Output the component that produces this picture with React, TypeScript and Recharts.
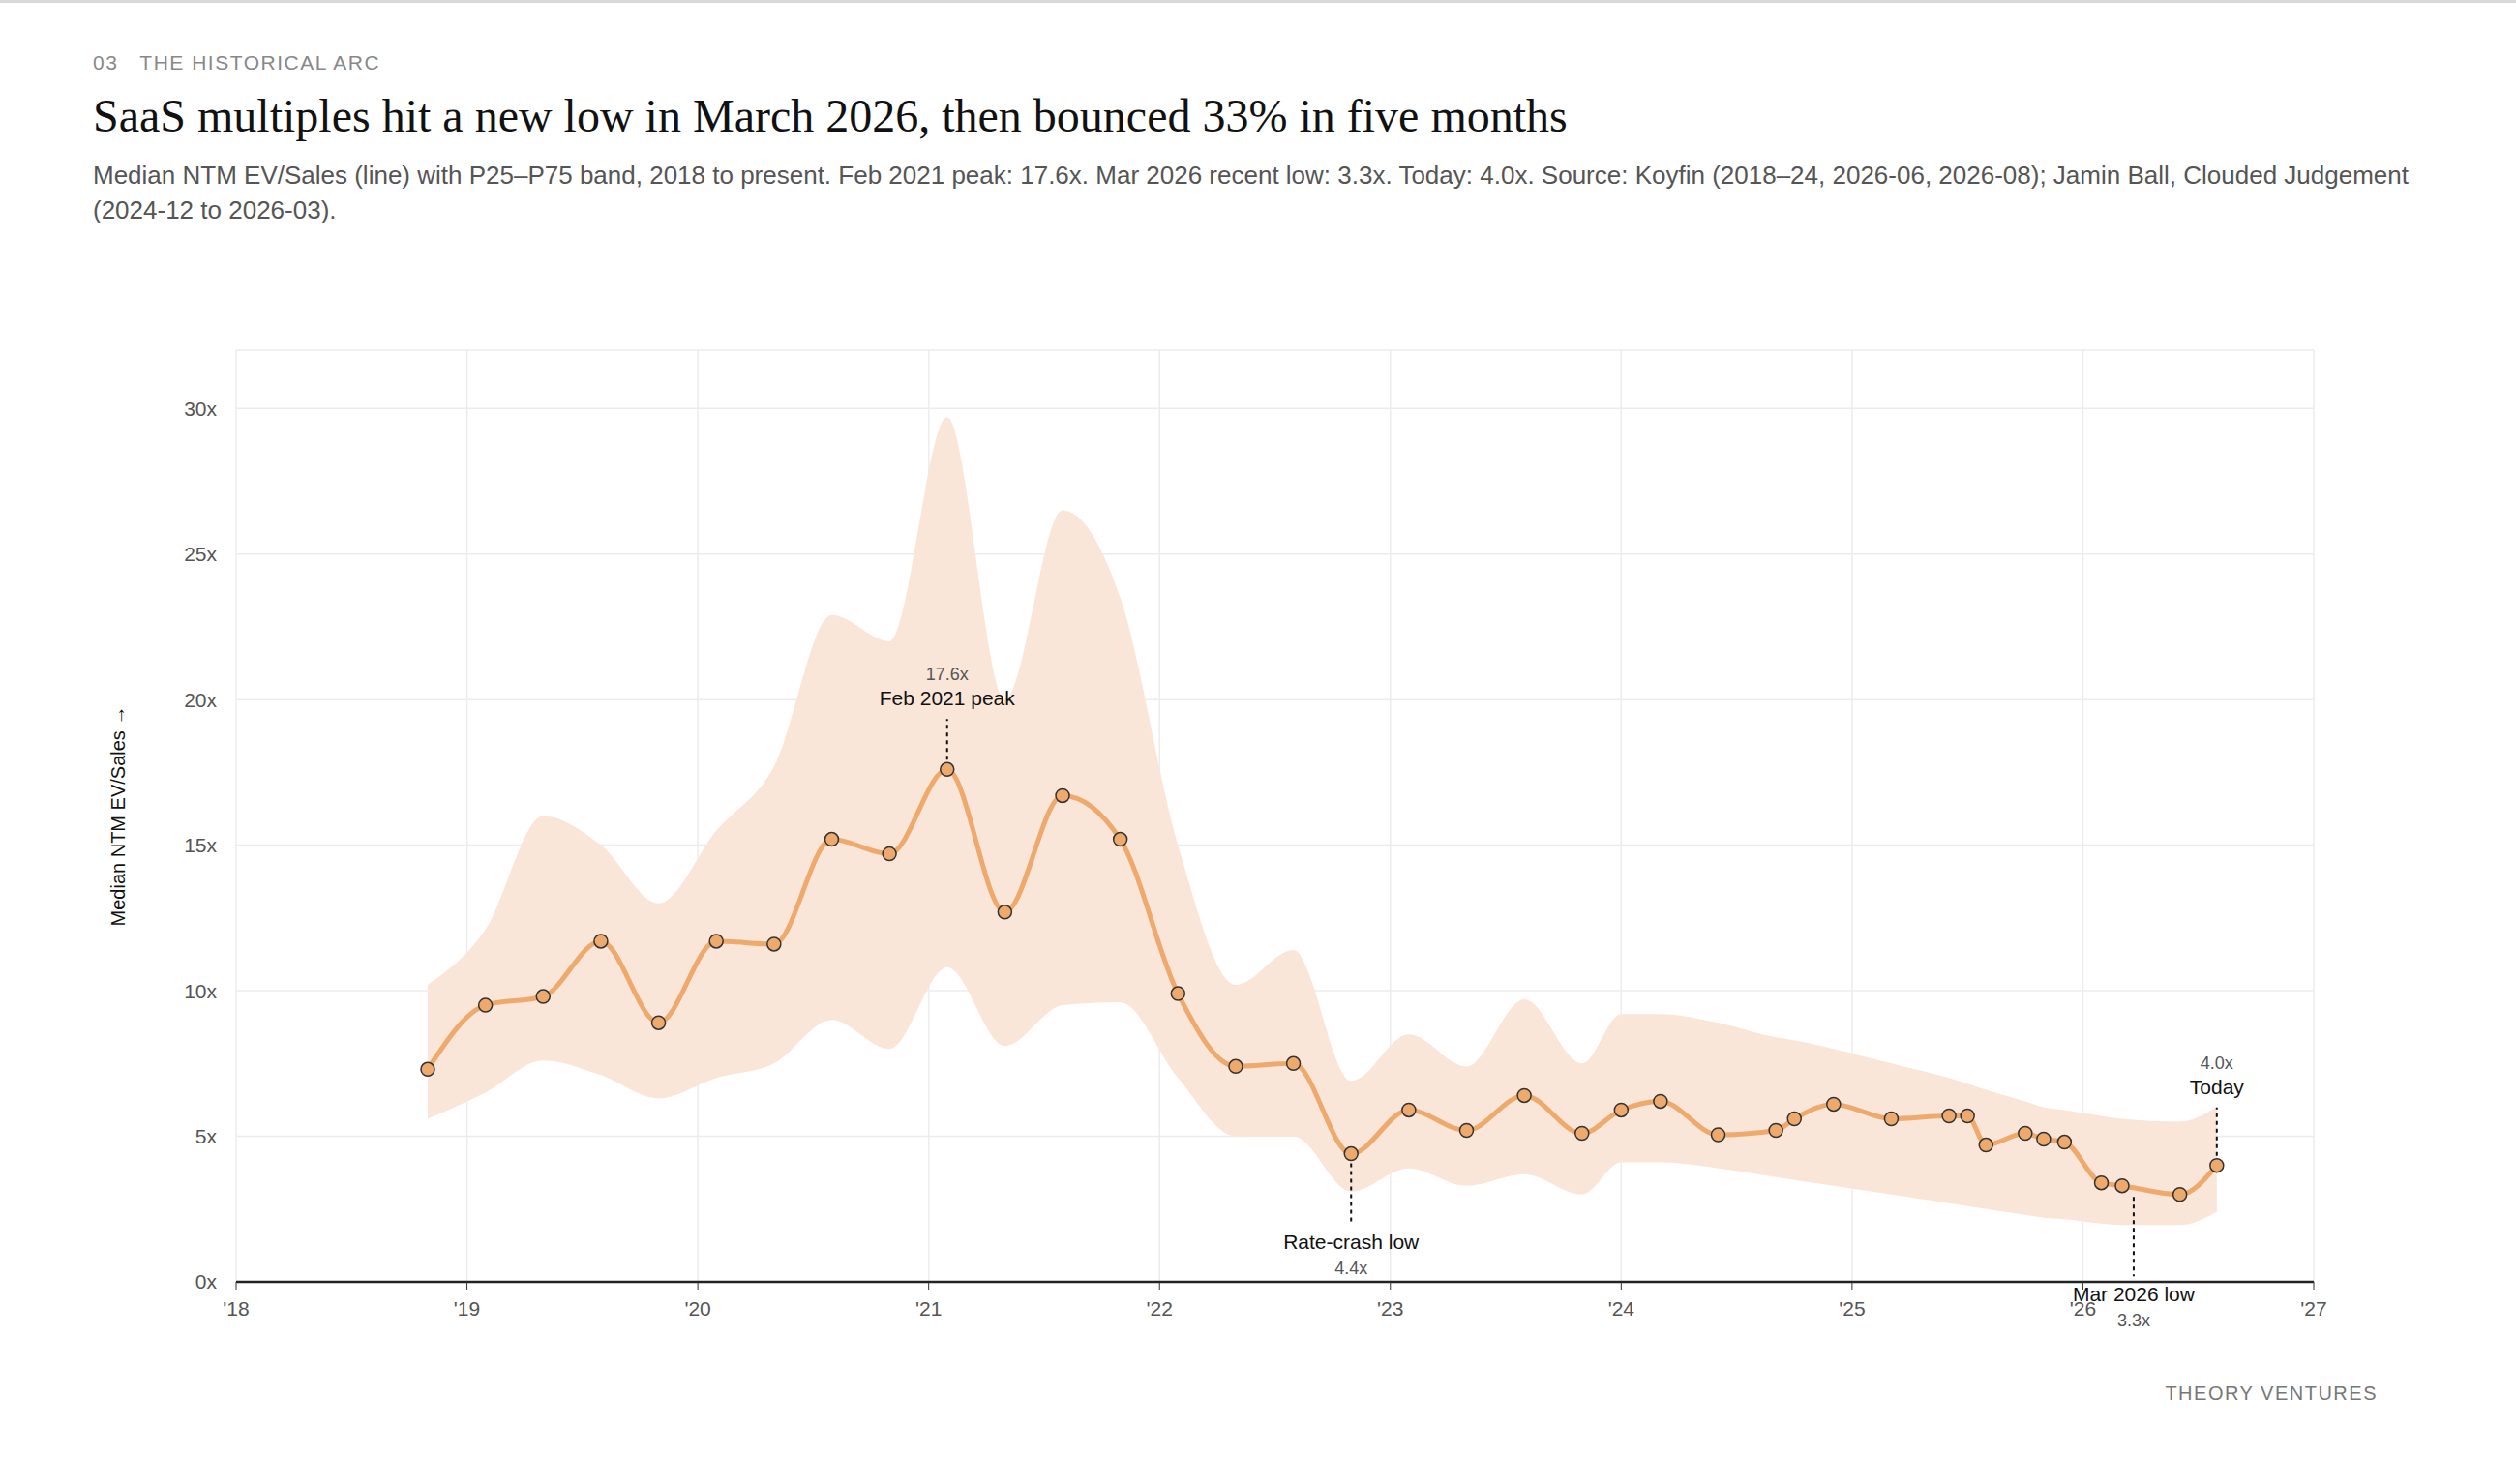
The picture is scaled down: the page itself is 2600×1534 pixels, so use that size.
import React from "react";
import { ComposedChart, Area, Line, XAxis, YAxis, CartesianGrid, ReferenceDot, Label } from "recharts";

const dates = [2018.83, 2019.08, 2019.33, 2019.58, 2019.83, 2020.08, 2020.33, 2020.58, 2020.83, 2021.08, 2021.33, 2021.58, 2021.83, 2022.08, 2022.33, 2022.58, 2022.83, 2023.08, 2023.33, 2023.58, 2023.83, 2024.0, 2024.17, 2024.42, 2024.67, 2024.75, 2024.92, 2025.17, 2025.42, 2025.5, 2025.58, 2025.75, 2025.83, 2025.92, 2026.08, 2026.17, 2026.42, 2026.58];
const median = [7.3, 9.5, 9.8, 11.7, 8.9, 11.7, 11.6, 15.2, 14.7, 17.6, 12.7, 16.7, 15.2, 9.9, 7.4, 7.5, 4.4, 5.9, 5.2, 6.4, 5.1, 5.9, 6.2, 5.05, 5.2, 5.6, 6.1, 5.6, 5.7, 5.7, 4.7, 5.1, 4.9, 4.8, 3.4, 3.3, 3.0, 4.0];
const p25 = [5.6, 6.5, 7.6, 7.1, 6.3, 7.0, 7.5, 9.0, 8.0, 10.8, 8.1, 9.5, 9.6, 7.0, 5.0, 5.0, 3.1, 3.9, 3.3, 3.7, 3.0, 4.1, 4.1, 3.9, 3.6, 3.5, 3.3, 3.0, 2.7, 2.6, 2.5, 2.3, 2.2, 2.15, 2.0, 1.95, 1.95, 2.4];
const p75 = [10.2, 12.1, 16.0, 15.0, 13.0, 15.5, 17.7, 22.9, 22.0, 29.7, 20.0, 26.5, 23.5, 15.0, 10.2, 11.4, 6.9, 8.5, 7.4, 9.7, 7.5, 9.2, 9.2, 8.9, 8.4, 8.3, 8.0, 7.5, 7.0, 6.8, 6.6, 6.2, 6.0, 5.9, 5.7, 5.6, 5.5, 6.0];
const xTicks = [2018, 2019, 2020, 2021, 2022, 2023, 2024, 2025, 2026, 2027];
const yTicks = [0, 5, 10, 15, 20, 25, 30];

type Ann = { x: number; y: number; label: string; value: string; dir: "up" | "down"; len: number };
const annotations: Ann[] = [
  { x: 2021.08, y: 17.6, label: "Feb 2021 peak", value: "17.6x", dir: "up", len: 52 },
  { x: 2022.83, y: 4.4, label: "Rate-crash low", value: "4.4x", dir: "down", len: 72 },
  { x: 2026.22, y: 3.25, label: "Mar 2026 low", value: "3.3x", dir: "down", len: 92 },
  { x: 2026.58, y: 4.0, label: "Today", value: "4.0x", dir: "up", len: 60 },
];

const data = dates.map((d, i) => ({ d, m: median[i], band: [p25[i], p75[i]] }));
const font = "Helvetica, Arial, 'Liberation Sans', sans-serif";

function annShape(a: Ann) {
  return (props: any) => {
    const { cx, cy } = props;
    const up = a.dir === "up";
    const y2 = up ? cy - a.len : cy + a.len;
    return (
      <g>
        <line x1={cx} y1={up ? cy - 10 : cy + 10} x2={cx} y2={y2} stroke="#111" strokeWidth={2} strokeDasharray="4 4" />
        {up ? (
          <>
            <text x={cx} y={y2 - 14} textAnchor="middle" fontSize={21} fill="#111" fontFamily={font}>{a.label}</text>
            <text x={cx} y={y2 - 40} textAnchor="middle" fontSize={18} fill="#555" fontFamily={font}>{a.value}</text>
          </>
        ) : (
          <>
            <text x={cx} y={y2 + 26} textAnchor="middle" fontSize={21} fill="#111" fontFamily={font}>{a.label}</text>
            <text x={cx} y={y2 + 52} textAnchor="middle" fontSize={18} fill="#555" fontFamily={font}>{a.value}</text>
          </>
        )}
      </g>
    );
  };
}

export default function App() {
  return (
    <div style={{ position: "absolute", left: 0, top: 0, width: 2600, height: 1534, background: "#fff", borderTop: "3px solid #d8d8d8", boxSizing: "border-box", fontFamily: font }}>
      <div style={{ position: "absolute", left: 96, top: 50, fontSize: 21, color: "#888", letterSpacing: 1.5 }}>03&nbsp;&nbsp;&nbsp;THE HISTORICAL ARC</div>
      <div style={{ position: "absolute", left: 96, top: 89, fontSize: 48, color: "#111", fontFamily: "'Liberation Serif', serif" }}>SaaS multiples hit a new low in March 2026, then bounced 33% in five months</div>
      <div style={{ position: "absolute", left: 96, top: 160, width: 2420, fontSize: 26, color: "#555", lineHeight: "36px" }}>
        Median NTM EV/Sales (line) with P25–P75 band, 2018 to present. Feb 2021 peak: 17.6x. Mar 2026 recent low: 3.3x. Today: 4.0x. Source: Koyfin (2018–24, 2026-06, 2026-08); Jamin Ball, Clouded Judgement (2024-12 to 2026-03).
      </div>
      <div style={{ position: "absolute", right: 143, top: 1426, fontSize: 20, color: "#777", letterSpacing: 1.5 }}>THEORY VENTURES</div>
      <div style={{ position: "absolute", left: 0, top: 0 }}>
        <ComposedChart width={2600} height={1528} data={data} margin={{ top: 359, right: 209, bottom: 146, left: 164 }}>
          <CartesianGrid stroke="#ececec" strokeWidth={1.5} />
          <XAxis dataKey="d" type="number" domain={[2018, 2027]} ticks={xTicks} tickFormatter={(v: number) => "'" + String(v).slice(2)} tick={{ fontSize: 21, fill: "#555", fontFamily: font }} tickLine={{ stroke: "#333" }} tickSize={8} axisLine={{ stroke: "#222", strokeWidth: 2.5 }} height={60} tickMargin={12} />
          <YAxis type="number" domain={[0, 32]} ticks={yTicks} tickFormatter={(v: number) => v + "x"} tick={{ fontSize: 21, fill: "#555", fontFamily: font }} tickLine={false} axisLine={false} width={80} tickMargin={14}>
            <Label value="Median NTM EV/Sales →" angle={-90} position="insideLeft" offset={-42} style={{ fontSize: 20, fill: "#111", fontFamily: font, textAnchor: "middle" }} />
          </YAxis>
          <Area dataKey="band" type="monotone" stroke="none" fill="#fae6d8" fillOpacity={1} isAnimationActive={false} />
          <Line dataKey="m" type="monotone" stroke="#eeaa6c" strokeWidth={5} dot={{ r: 7, fill: "#eeaa6c", stroke: "#333", strokeWidth: 1.5 }} isAnimationActive={false} />
          {annotations.map((a) => (
            <ReferenceDot key={a.label} x={a.x} y={a.y} r={0} shape={annShape(a)} ifOverflow="visible" />
          ))}
        </ComposedChart>
      </div>
    </div>
  );
}
